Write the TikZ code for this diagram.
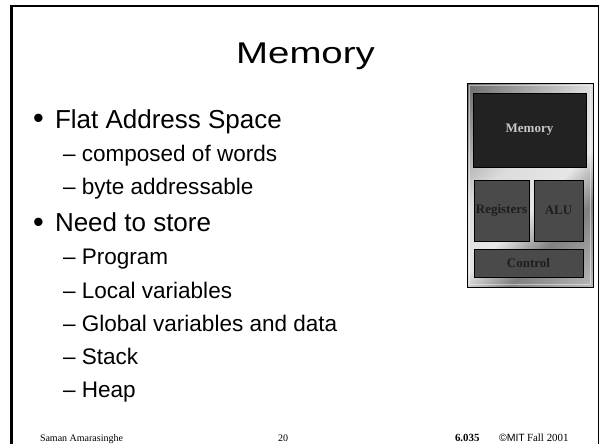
\documentclass[tikz,border=0pt]{standalone}
\usepackage{fontspec}
\setmainfont{Liberation Serif}
\newfontfamily\arial{Liberation Sans}
\usetikzlibrary{positioning}

% metallic band used for the CPU panel
\definecolor{mA}{HTML}{6A6A6A}
\definecolor{mB}{HTML}{989898}
\definecolor{mC}{HTML}{DCDCDC}
\definecolor{mD}{HTML}{E6E6E6}
\definecolor{mE}{HTML}{808080}
\definecolor{mF}{HTML}{A6A6A6}
\definecolor{mG}{HTML}{B8B8B8}
\pgfdeclarehorizontalshading{metal}{100bp}{%
  color(0bp)=(mA); color(25bp)=(mA); color(32.6bp)=(mB); color(44bp)=(mC);
  color(53.9bp)=(mD); color(62.2bp)=(mE); color(70.6bp)=(mF);
  color(75bp)=(mG); color(100bp)=(mG)}
\definecolor{memfill}{HTML}{222222}
\definecolor{unitfill}{HTML}{4A4A4A}
\definecolor{memtext}{HTML}{C8C8C8}
\definecolor{unittext}{HTML}{1E1E1E}

\begin{document}
\begin{tikzpicture}[x=0.75pt,y=-0.75pt,
  every node/.style={inner sep=0pt,outer sep=0pt},
  lvlone/.style={anchor=base west,font=\arial\fontsize{19.5}{23}\selectfont},
  lvltwo/.style={anchor=base west,font=\arial\fontsize{16.9}{20}\selectfont},
  bulletmark/.style={anchor=base west,font=\arial\fontsize{23}{26}\selectfont},
  foot/.style={anchor=base west,font=\fontsize{7.5}{9}\selectfont},
  footr/.style={anchor=base west,font=\fontsize{8.2}{10}\selectfont},
  unitbox/.style={draw=black,line width=0.75pt,fill=unitfill,text=unittext,
    font=\bfseries\fontsize{9.75}{11}\selectfont}]
\useasboundingbox (0,0) rectangle (600,444);

% slide frame
\draw[line width=1.9pt] (11.3,444) -- (11.3,5.6);
\draw[line width=1.5pt] (10.4,6.3) -- (599.2,6.3);
\draw[line width=1.1pt] (598.5,5.6) -- (598.5,444);

% title
\node[anchor=base,font=\arial\fontsize{22.5}{26}\selectfont] (title) at (305.5,63.3)
  {\scalebox{1.28}[1]{Memory}};

% bullet list
\node[bulletmark] (d1) at (33,128.5) {•};
\node[lvlone] (b1) at (55,128) {Flat Address Space};
\node[lvltwo] (s1) at (63,161) {– composed of words};
\node[lvltwo] (s2) at (63,194) {– byte addressable};
\node[bulletmark] (d2) at (33,232) {•};
\node[lvlone] (b2) at (55,231) {Need to store};
\node[lvltwo] (s3) at (63,264) {– Program};
\node[lvltwo] (s4) at (63,298) {– Local variables};
\node[lvltwo] (s5) at (63,331) {– Global variables and data};
\node[lvltwo] (s6) at (63,364) {– Stack};
\node[lvltwo] (s7) at (63,397) {– Heap};

% CPU panel: metallic background
\begin{scope}
  \clip (467,83) rectangle (593,287);
  \begin{scope}[transform canvas={rotate around={-45:(530,185)}}]
    \shade[shading=metal] (413,68) rectangle (647,302);
  \end{scope}
\end{scope}
\draw[white,opacity=0.45,line width=0.8pt] (469.5,85.5) rectangle (590.5,284.5);
\node[draw=black,line width=0.75pt,minimum width=94.5pt,minimum height=153pt]
  (cpu) at (530,185) {};

% units inside the panel
\node[unitbox,fill=memfill,text=memtext,minimum width=84.75pt,minimum height=55.5pt]
  (mem) at (529.5,130) {Memory};
\node[unitbox,minimum width=41.25pt,minimum height=45.75pt]
  (reg) at (501.5,210.5) {Registers};
\node[unitbox,minimum width=36.75pt,minimum height=45.75pt]
  (alu) at (558.5,210.5) {ALU};
\node[unitbox,minimum width=81.75pt,minimum height=21pt]
  (ctl) at (528.5,263) {Control};

% footer
\node[foot] (author) at (40,441) {Saman Amarasinghe};
\node[foot,anchor=base] (page) at (283,441) {20};
\node[footr,font=\bfseries\fontsize{8.2}{10}\selectfont] (course) at (455,441) {6.035};
\node[footr,font=\arial\fontsize{7.9}{10}\selectfont] (mit) at (499,441) {©MIT};
\node[footr] (term) at (527,441) {Fall 2001};
\end{tikzpicture}
\end{document}
